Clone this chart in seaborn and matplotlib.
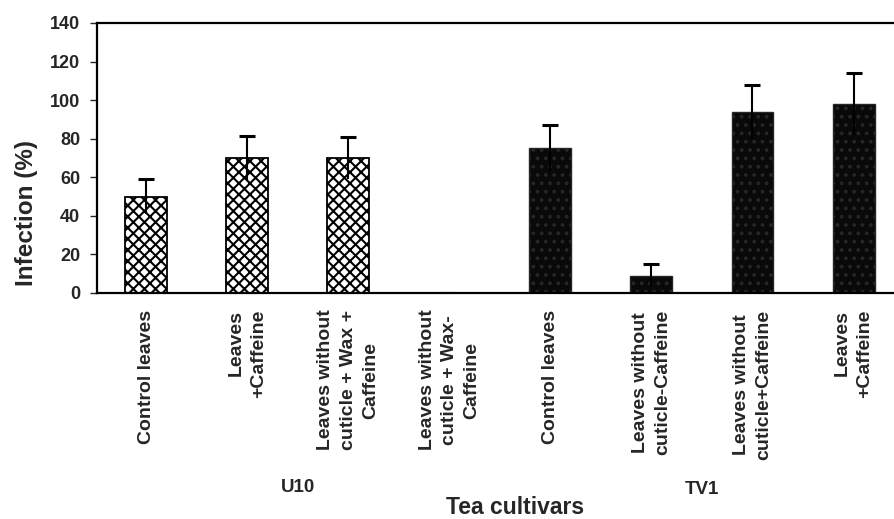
import matplotlib
matplotlib.use("Agg")
import matplotlib.pyplot as plt
import seaborn as sns
import pandas as pd

# data
treatments = ["Control leaves", "Leaves\n+Caffeine",
              "Leaves without\ncuticle + Wax +\nCaffeine",
              "Leaves without\ncuticle + Wax-\nCaffeine",
              "Control leaves", "Leaves without\ncuticle-Caffeine",
              "Leaves without\ncuticle+Caffeine", "Leaves\n+Caffeine"]
cultivar = ["U10"] * 4 + ["TV1"] * 4
infection = [50, 70, 70, 0, 75, 9, 94, 98]
error = [9, 11.5, 11, 0, 12, 6, 14, 16]
line_align = ["center", "right", "center", "center",
              "center", "center", "center", "right"]

sns.set_style("ticks")
plt.rcParams["font.family"] = ["Liberation Sans", "DejaVu Sans"]
plt.rcParams["font.weight"] = "bold"
plt.rcParams["hatch.linewidth"] = 1.5

df = pd.DataFrame({"pos": range(len(infection)), "infection": infection,
                   "cultivar": cultivar})

fig = plt.figure(figsize=(8.94, 5.19), dpi=100)
ax = fig.add_axes([0.1085, 0.4355, 0.8915, 0.5202])

sns.barplot(data=df, x="pos", y="infection", color="white",
            errorbar=None, width=0.415, ax=ax)

for patch, cv in zip(ax.patches, cultivar):
    if cv == "U10":
        patch.set_facecolor("white")
        patch.set_edgecolor("black")
        patch.set_hatch("xxx")
        patch.set_linewidth(1.3)
    else:
        patch.set_facecolor("#090909")
        patch.set_edgecolor("#262626")
        patch.set_hatch("..")
        patch.set_linewidth(1.0)

eb = ax.errorbar(df["pos"], infection, yerr=error, fmt="none", ecolor="black",
                 elinewidth=1.5, capsize=5.5, capthick=2.2)
eb[1][0].set_visible(False)  # only the upper cap is drawn

ax.set_xlim(-0.485, 7.4)
ax.set_ylim(0, 140)
ax.set_yticks(range(0, 141, 20))
ax.tick_params(axis="y", length=5, width=1, labelsize=13, pad=7)
ax.tick_params(axis="x", length=0, pad=12)
ax.set_xticks(range(len(treatments)))
ax.set_xticklabels(treatments, rotation=90, fontsize=14, va="top",
                   ha="center", linespacing=1.4)
for lab, al in zip(ax.get_xticklabels(), line_align):
    lab.set_multialignment(al)

ax.set_xlabel("")
ax.set_ylabel("Infection (%)", fontsize=17.5, fontweight="bold")
ax.yaxis.set_label_coords(-0.074, 0.296)

for side in ["top", "bottom", "left"]:
    ax.spines[side].set_linewidth(1.6)
    ax.spines[side].set_color("black")
ax.spines["right"].set_visible(False)

# cultivar group labels under the rotated treatment names
xform = ax.get_xaxis_transform()
ax.text(1.5, -(488 - 293) / 270, "U10", transform=xform, fontsize=13.5,
        fontweight="bold", ha="center", va="center")
ax.text(5.5, -(490 - 293) / 270, "TV1", transform=xform, fontsize=13.5,
        fontweight="bold", ha="center", va="center")
fig.text(0.576, 0.023, "Tea cultivars", fontsize=16.5, fontweight="bold",
         ha="center", va="center")

fig.savefig("out.png", dpi=100)
